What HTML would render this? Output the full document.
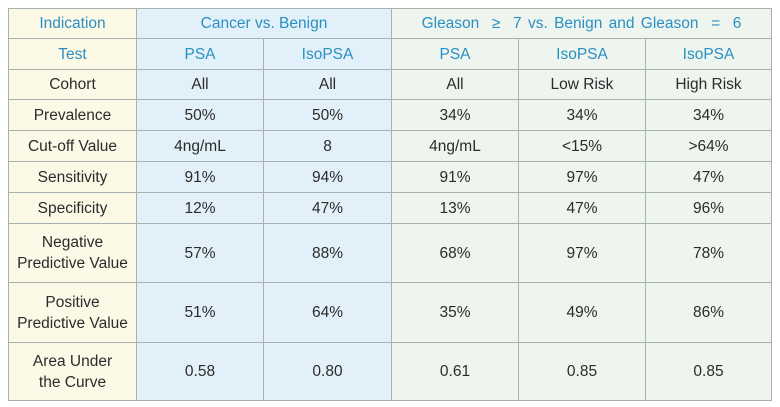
<!DOCTYPE html>
<html><head><meta charset="utf-8"><style>
body{margin:0;background:#fff;width:780px;height:407px;overflow:hidden}
table{position:absolute;left:8px;top:8px;border-collapse:collapse;table-layout:fixed;font-family:"Liberation Sans",sans-serif;font-size:15.5px;color:#2b2b2b}
td{border:1px solid #a9b0b0;text-align:center;vertical-align:middle;padding:0;line-height:21px}
.c0{background:#fdf9e7}
.b{background:#e2f1f9}
.g{background:#eef5ef}
.h{color:#2a8fc2}
</style></head><body>
<table>
<colgroup><col style="width:128px"><col style="width:127px"><col style="width:128px"><col style="width:127px"><col style="width:127px"><col style="width:126px"></colgroup>
<tr style="height:30px"><td class="c0 h">Indication</td><td class="b h" colspan="2">Cancer vs. Benign</td><td class="g h" colspan="3" style="word-spacing:2px">Gleason &nbsp;≥ &nbsp;7 vs. Benign and Gleason &nbsp;= &nbsp;6</td></tr>
<tr style="height:31px"><td class="c0 h">Test</td><td class="b h">PSA</td><td class="b h">IsoPSA</td><td class="g h">PSA</td><td class="g h">IsoPSA</td><td class="g h">IsoPSA</td></tr>
<tr style="height:30px"><td class="c0">Cohort</td><td class="b">All</td><td class="b">All</td><td class="g">All</td><td class="g">Low Risk</td><td class="g">High Risk</td></tr>
<tr style="height:31px"><td class="c0">Prevalence</td><td class="b">50%</td><td class="b">50%</td><td class="g">34%</td><td class="g">34%</td><td class="g">34%</td></tr>
<tr style="height:31px"><td class="c0">Cut-off Value</td><td class="b">4ng/mL</td><td class="b">8</td><td class="g">4ng/mL</td><td class="g">&lt;15%</td><td class="g">&gt;64%</td></tr>
<tr style="height:31px"><td class="c0">Sensitivity</td><td class="b">91%</td><td class="b">94%</td><td class="g">91%</td><td class="g">97%</td><td class="g">47%</td></tr>
<tr style="height:31px"><td class="c0">Specificity</td><td class="b">12%</td><td class="b">47%</td><td class="g">13%</td><td class="g">47%</td><td class="g">96%</td></tr>
<tr style="height:59px"><td class="c0">Negative<br>Predictive Value</td><td class="b">57%</td><td class="b">88%</td><td class="g">68%</td><td class="g">97%</td><td class="g">78%</td></tr>
<tr style="height:60px"><td class="c0">Positive<br>Predictive Value</td><td class="b">51%</td><td class="b">64%</td><td class="g">35%</td><td class="g">49%</td><td class="g">86%</td></tr>
<tr style="height:58px"><td class="c0">Area Under<br>the Curve</td><td class="b">0.58</td><td class="b">0.80</td><td class="g">0.61</td><td class="g">0.85</td><td class="g">0.85</td></tr>
</table>
</body></html>
